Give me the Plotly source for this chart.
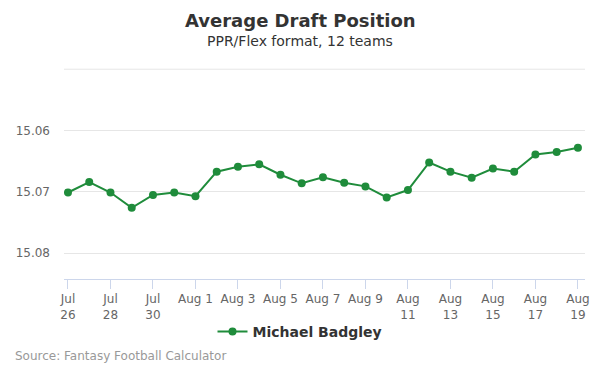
import plotly.graph_objects as go
import pandas as pd

dates = pd.date_range("2019-07-26", "2019-08-19", freq="D").strftime("%Y-%m-%d").tolist()
adp = [15.0701, 15.0684, 15.0701, 15.0726, 15.0705, 15.0701, 15.0707, 15.0667,
       15.0659, 15.0655, 15.0672, 15.0686, 15.0676, 15.0685, 15.0691, 15.0709,
       15.0697, 15.0652, 15.0667, 15.0677, 15.0662, 15.0667, 15.0639, 15.0635,
       15.0628]
tick_dates = dates[::2]
tick_text = ["Jul<br>26", "Jul<br>28", "Jul<br>30", "Aug 1", "Aug 3", "Aug 5", "Aug 7",
             "Aug 9", "Aug<br>11", "Aug<br>13", "Aug<br>15", "Aug<br>17", "Aug<br>19"]
y_ticks = [15.06, 15.07, 15.08]
y_text = ["15.06", "15.07", "15.08"]

W, H = 600, 375
L, R, T, B = 64, 15, 68, 96
pw, ph = W - L - R, H - T - B

def px(x):
    return (x - L) / pw

def py(y):
    return (H - B - y) / ph

green = "#1f8c3b"
font = "DejaVu Sans"

fig = go.Figure()
fig.add_trace(go.Scatter(
    x=dates, y=adp, mode="lines+markers", name="<b>Michael Badgley</b>",
    line=dict(color=green, width=2), marker=dict(color=green, size=8),
))

fig.update_layout(
    width=W, height=H, margin=dict(l=L, r=R, t=T, b=B, autoexpand=False),
    plot_bgcolor="white", paper_bgcolor="white",
    font=dict(family=font, color="#666666", size=12),
    showlegend=True,
    legend=dict(orientation="h", x=px(300), xanchor="center", y=py(332), yanchor="middle",
                itemwidth=30,
                font=dict(size=14, color="#333333", family=font)),
    xaxis=dict(
        type="date",
        range=["2019-07-25 19:30", "2019-08-19 08:00"],
        tickvals=tick_dates, ticktext=tick_text,
        showgrid=False, showline=True, linecolor="#ccd6eb", linewidth=1,
        ticks="outside", ticklen=9, tickcolor="#ccd6eb",
        tickfont=dict(size=12, color="#666666"), zeroline=False,
    ),
    yaxis=dict(
        range=[15.0842, 15.0498],
        tickvals=y_ticks, ticktext=y_text,
        showgrid=True, gridcolor="#e6e6e6", gridwidth=1,
        zeroline=False, showline=False, ticks="", ticklabelstandoff=13,
        tickfont=dict(size=12, color="#666666"),
    ),
    shapes=[dict(type="line", xref="paper", yref="y", x0=0, x1=1, y0=15.05, y1=15.05,
                 line=dict(color="#e6e6e6", width=1), layer="below")],
    annotations=[
        dict(text="<b>Average Draft Position</b>", xref="paper", yref="paper",
             x=px(300), y=py(20), xanchor="center", yanchor="middle", showarrow=False,
             font=dict(size=18, color="#333333", family=font)),
        dict(text="PPR/Flex format, 12 teams", xref="paper", yref="paper",
             x=px(300), y=py(41), xanchor="center", yanchor="middle", showarrow=False,
             font=dict(size=14, color="#333333", family=font)),
        dict(text="Source: Fantasy Football Calculator", xref="paper", yref="paper",
             x=px(13), y=py(356), xanchor="left", yanchor="middle", showarrow=False,
             font=dict(size=12, color="#999999", family=font)),
    ],
)

fig.write_html("out.html", config={"displayModeBar": False},
               post_script="document.body.style.margin='0';")
